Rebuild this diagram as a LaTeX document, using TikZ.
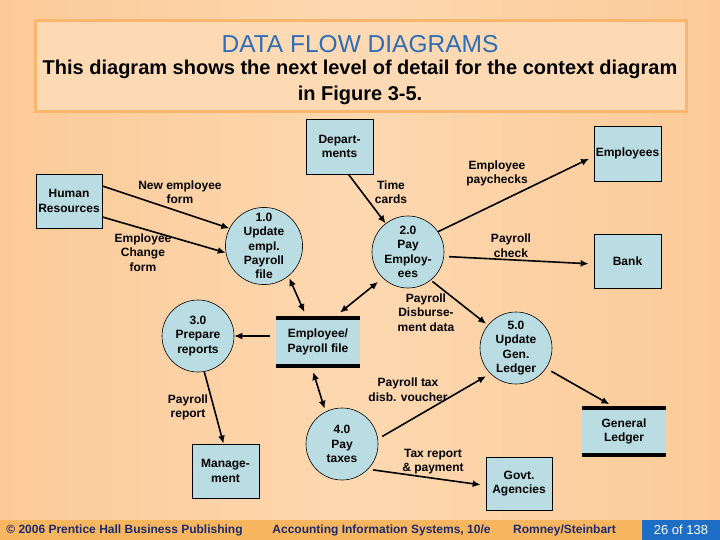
\documentclass[tikz,border=0pt]{standalone}
\usepackage{fontspec}
\setmainfont{Liberation Sans}
\usetikzlibrary{arrows.meta}
\definecolor{bgL}{HTML}{FCCA98}
\definecolor{bgM}{HTML}{FDD8B0}
\definecolor{boxfill}{HTML}{FDDAB4}
\definecolor{boxborder}{HTML}{F9B66C}
\definecolor{titleblue}{HTML}{2E6DB5}
\definecolor{nodefill}{HTML}{BADDE3}
\definecolor{footband}{HTML}{F9B660}
\definecolor{footblue}{HTML}{1F6EC6}
\definecolor{footnavy}{HTML}{1B2A6E}
\tikzset{
  entity/.style={draw=black, line width=0.8pt, fill=nodefill, align=center, inner sep=0pt,
     font=\bfseries\fontsize{12}{14.5}\selectfont},
  proc/.style={circle, draw=black, line width=0.6pt, fill=nodefill, align=center, inner sep=0pt,
     minimum size=72pt, font=\bfseries\fontsize{12}{14.3}\selectfont},
  store/.style={fill=nodefill, align=center, inner sep=0pt,
     font=\bfseries\fontsize{12}{14.5}\selectfont},
  lbl/.style={align=center, inner sep=0pt, font=\bfseries\fontsize{12}{14.5}\selectfont},
  flow/.style={line width=1.6pt, -{Latex[length=8pt,width=7pt]}},
  flow2/.style={line width=1.6pt, {Latex[length=8pt,width=7pt]}-{Latex[length=8pt,width=7pt]}},
  foot/.style={inner sep=0pt, font=\bfseries\fontsize{12}{14}\selectfont, text=footnavy}
}
\begin{document}
\begin{tikzpicture}[x=1pt,y=-1pt]
\useasboundingbox (0,0) rectangle (720,540);
\shade[left color=bgL, right color=bgL, middle color=bgM, shading=axis] (0,0) rectangle (720,540);
% title box
\node[draw=boxborder, line width=3pt, fill=boxfill, minimum width=651pt, minimum height=91pt, inner sep=0pt] (tbox) at (360.5,66.5) {};
\node[inner sep=0pt, text=titleblue, font=\fontsize{24.5}{26}\selectfont] (title) at (360,44) {DATA FLOW DIAGRAMS};
\node[inner sep=0pt, align=center, font=\bfseries\fontsize{20}{26}\selectfont] (sub) at (360,82) {This diagram shows the next level of detail for the context diagram\\in Figure 3-5.};
% footer
\fill[footband] (0,520) rectangle (720,540);
\node[fill=footblue, minimum width=78pt, minimum height=20pt, inner sep=0pt] (pg) at (681,530) {};
\node[inner sep=0pt, text=white, font=\fontsize{13}{14}\selectfont] (pgt) at (681,530) {26 of 138};
\node[foot] (f1) at (124.5,530) {© 2006 Prentice Hall Business Publishing};
\node[foot] (f2) at (381.5,530) {Accounting Information Systems, 10/e};
\node[foot] (f3) at (564.5,530) {Romney/Steinbart};
% external entities
\node[entity, minimum width=67pt, minimum height=55pt] (dep) at (339.5,146.5) {Depart-\\ments};
\node[entity, minimum width=66pt, minimum height=54pt] (hr) at (69,201) {Human\\Resources};
\node[entity, minimum width=67pt, minimum height=55pt] (emp) at (627.5,153.5) {Employees};
\node[entity, minimum width=67pt, minimum height=54pt] (bank) at (627.5,261) {Bank};
\node[entity, minimum width=67pt, minimum height=54pt] (mgmt) at (225.5,471) {Manage-\\ment};
\node[entity, minimum width=66pt, minimum height=53pt] (govt) at (519,483.5) {Govt.\\Agencies};
% processes
\node[proc] (c1) at (264,246) {1.0\\Update\\empl.\\Payroll\\file};
\node[proc] (c2) at (408,252) {2.0\\Pay\\Employ-\\ees};
\node[proc] (c3) at (198,336) {3.0\\Prepare\\reports};
\node[proc] (c4) at (342,444) {4.0\\Pay\\taxes};
\node[proc] (c5) at (516,348) {5.0\\Update\\Gen.\\Ledger};
% data stores
\node[store, minimum width=84pt, minimum height=52pt] (file) at (318,342) {Employee/\\Payroll file};
\draw[line width=4pt] ([yshift=-2pt]file.north west) -- ([yshift=-2pt]file.north east);
\draw[line width=4pt] ([yshift=2pt]file.south west) -- ([yshift=2pt]file.south east);
\node[store, minimum width=84pt, minimum height=51pt] (gl) at (624,431.5) {General\\Ledger};
\draw[line width=4pt] ([yshift=-2pt]gl.north west) -- ([yshift=-2pt]gl.north east);
\draw[line width=4pt] ([yshift=2pt]gl.south west) -- ([yshift=2pt]gl.south east);
% flows
\draw[flow] ([yshift=15pt]hr.east) -- (c1.153);
\draw[flow] ([yshift=-16pt]hr.east) -- (c1.190);
\draw[flow] ([xshift=9pt]dep.south) -- (c2.128);
\draw[flow, shorten >=5pt] (c2.34) -- ([yshift=-3pt]emp.west);
\draw[flow, shorten <=5pt, shorten >=5pt] (c2.-7) -- ([yshift=-3pt]bank.west);
\draw[flow2, shorten <=2pt, shorten >=4pt] (c1.-51) -- ([xshift=-12pt]file.north);
\draw[flow2, shorten <=6pt, shorten >=5pt] (c2.226) -- ([xshift=18pt]file.north);
\draw[flow, shorten <=6pt] ([yshift=6pt]file.west) -- (c3.east);
\draw[flow] (c3.-80) -- ([xshift=-2pt]mgmt.north);
\draw[flow2, shorten <=4pt, shorten >=3pt] ([xshift=-6pt]file.south) -- (c4.117);
\draw[flow, shorten <=2pt, shorten >=2pt] (c2.-51) -- (c5.141);
\draw[flow, shorten <=5pt, shorten >=5pt] (c4.8) -- (c5.225);
\draw[flow, shorten <=6pt, shorten >=3pt] (c5.-34) -- ([xshift=-12pt]gl.north);
\draw[flow, shorten <=5pt, shorten >=5pt] (c4.-44) -- ([yshift=-2pt]govt.west);
% labels
\node[lbl] (l1) at (180,192) {New employee\\form};
\node[lbl] (l2) at (143,252.5) {Employee\\Change\\form};
\node[lbl] (l3) at (391,192) {Time\\cards};
\node[lbl] (l4) at (497,173.5) {Employee\\paychecks};
\node[lbl] (l5) at (511,245.5) {Payroll\\check};
\node[lbl] (l6) at (426,312.5) {Payroll\\Disburse-\\ment data};
\node[lbl] (l7) at (408,389.5) {Payroll tax\\disb. voucher};
\node[lbl] (l8) at (433,461.5) {Tax report\\\& payment};
\node[lbl] (l9) at (188,407.5) {Payroll\\report};
\end{tikzpicture}
\end{document}
